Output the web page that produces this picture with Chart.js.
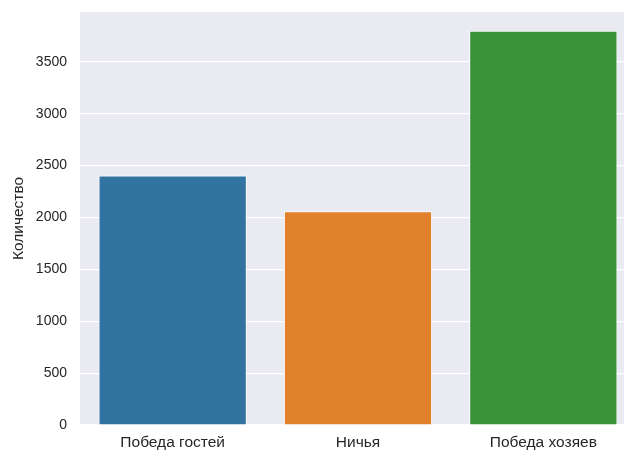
<!DOCTYPE html>
<html>
<head>
<meta charset="utf-8">
<script src="https://cdn.jsdelivr.net/npm/chart.js@4"></script>
<style>
  html, body { margin: 0; padding: 0; background: #fff; overflow: hidden; }
  #wrap { width: 640px; height: 452px; }
</style>
</head>
<body>
<div id="wrap"><canvas id="myChart" width="640" height="452"></canvas></div>
<script>
'use strict'

// данные
var categories = ['Победа гостей', 'Ничья', 'Победа хозяев'];
var counts = [2405, 2060, 3800];
var barColors = ['#3274A1', '#E1812C', '#3A923A'];
var yTicks = [0, 500, 1000, 1500, 2000, 2500, 3000, 3500];
var yLabel = 'Количество';

var textColor = '#262626';
var fontFamily = "Arial, 'Liberation Sans', sans-serif";

// серый фон области графика
var plotBg = {
    id: 'plotBg',
    beforeDraw: function (chart) {
        var a = chart.chartArea;
        var ctx = chart.ctx;
        ctx.save();
        ctx.fillStyle = '#EAEAF2';
        ctx.fillRect(a.left, a.top, a.right - a.left, a.bottom - a.top);
        ctx.restore();
    }
};

window.onload = function () {
    var ctx = document.getElementById('myChart');
    new Chart(ctx, {
        type: 'bar',
        data: {
            labels: categories,
            datasets: [{
                data: counts,
                backgroundColor: barColors,
                borderColor: '#ffffff',
                borderWidth: 1,
                barPercentage: 0.8,
                categoryPercentage: 1.0
            }]
        },
        options: {
            responsive: false,
            animation: false,
            layout: { padding: { top: 12, right: 4, left: 0, bottom: 0 } },
            plugins: {
                legend: { display: false },
                tooltip: { enabled: false }
            },
            scales: {
                x: {
                    grid: { display: false, drawTicks: false },
                    border: { display: false },
                    ticks: {
                        color: textColor,
                        padding: 8,
                        font: { family: fontFamily, size: 15.5 }
                    },
                    afterFit: function (scale) {
                        scale.height = 27;
                        scale.paddingLeft = 0;
                        scale.paddingRight = 0;
                    }
                },
                y: {
                    type: 'linear',
                    min: 0,
                    max: 3980,
                    afterBuildTicks: function (scale) {
                        scale.ticks = yTicks.map(function (v) { return { value: v }; });
                    },
                    grid: { color: '#ffffff', lineWidth: 1.2, drawTicks: false },
                    border: { display: false },
                    ticks: {
                        color: textColor,
                        padding: 13,
                        font: { family: fontFamily, size: 14 },
                        callback: function (v) { return String(v); }
                    },
                    title: {
                        display: true,
                        text: yLabel,
                        color: textColor,
                        padding: { top: 9, bottom: 0 },
                        font: { family: fontFamily, size: 15.5 }
                    },
                    afterFit: function (scale) {
                        scale.width = 80;
                        scale.paddingTop = 0;
                        scale.paddingBottom = 0;
                    }
                }
            }
        },
        plugins: [plotBg]
    });
};
</script>
</body>
</html>
